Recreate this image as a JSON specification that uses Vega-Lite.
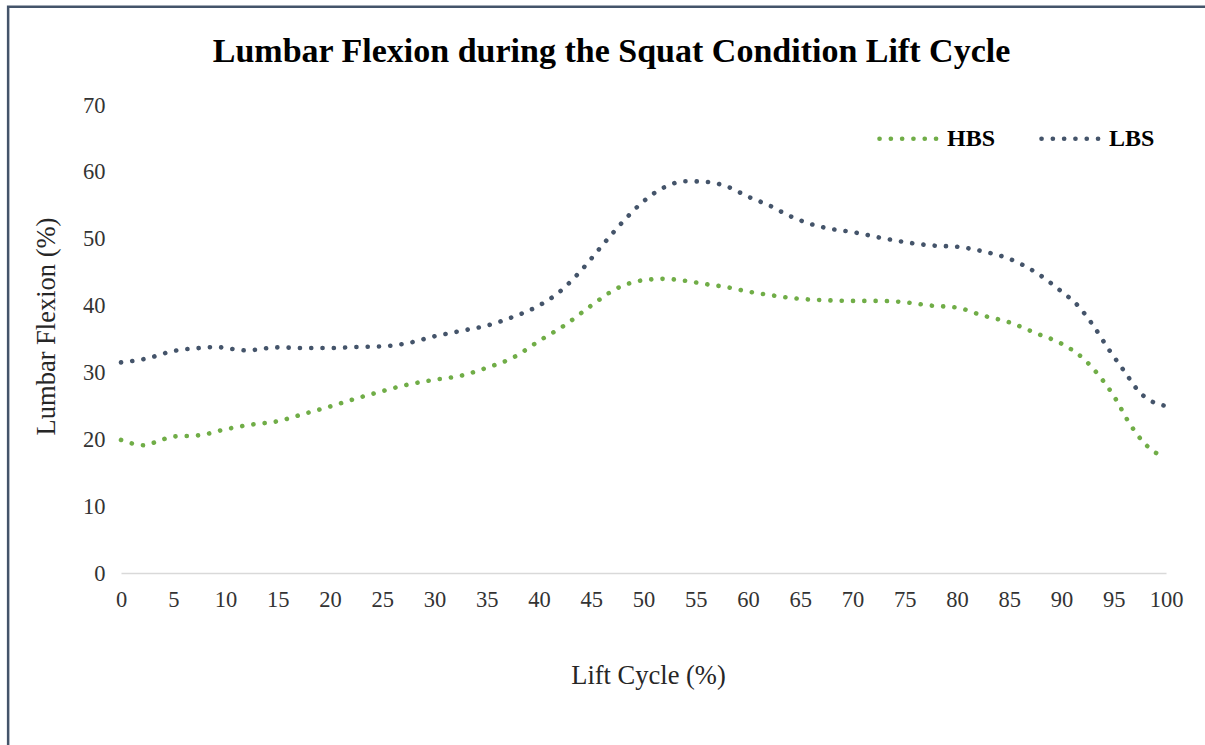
{
  "$schema": "https://vega.github.io/schema/vega-lite/v6.json",
  "width": 1045,
  "height": 468,
  "autosize": "none",
  "padding": {"left": 121, "top": 105, "right": 39, "bottom": 172},
  "background": "white",
  "config": {
    "view": {"stroke": null},
    "font": "Liberation Serif"
  },
  "title": {
    "text": "Lumbar Flexion during the Squat Condition Lift Cycle",
    "font": "Liberation Serif",
    "fontSize": 34,
    "fontWeight": "bold",
    "color": "#000000",
    "anchor": "middle",
    "frame": "group",
    "dx": -32,
    "offset": -64
  },
  "datasets": {
    "curves": [
      {"cycle": 0, "flexion": 19.9, "condition": "HBS"},
      {"cycle": 1, "flexion": 19.4, "condition": "HBS"},
      {"cycle": 2.3, "flexion": 19.1, "condition": "HBS"},
      {"cycle": 3.5, "flexion": 19.7, "condition": "HBS"},
      {"cycle": 5, "flexion": 20.4, "condition": "HBS"},
      {"cycle": 7.5, "flexion": 20.6, "condition": "HBS"},
      {"cycle": 10, "flexion": 21.5, "condition": "HBS"},
      {"cycle": 12.5, "flexion": 22.2, "condition": "HBS"},
      {"cycle": 15, "flexion": 22.7, "condition": "HBS"},
      {"cycle": 17.5, "flexion": 23.8, "condition": "HBS"},
      {"cycle": 20, "flexion": 24.9, "condition": "HBS"},
      {"cycle": 22.5, "flexion": 26.1, "condition": "HBS"},
      {"cycle": 25, "flexion": 27.2, "condition": "HBS"},
      {"cycle": 27.5, "flexion": 28.2, "condition": "HBS"},
      {"cycle": 30, "flexion": 28.9, "condition": "HBS"},
      {"cycle": 32.5, "flexion": 29.5, "condition": "HBS"},
      {"cycle": 35, "flexion": 30.7, "condition": "HBS"},
      {"cycle": 37.5, "flexion": 32.2, "condition": "HBS"},
      {"cycle": 40, "flexion": 34.7, "condition": "HBS"},
      {"cycle": 42.5, "flexion": 37.1, "condition": "HBS"},
      {"cycle": 45, "flexion": 40.0, "condition": "HBS"},
      {"cycle": 47.5, "flexion": 42.6, "condition": "HBS"},
      {"cycle": 50, "flexion": 43.8, "condition": "HBS"},
      {"cycle": 52, "flexion": 44.0, "condition": "HBS"},
      {"cycle": 54, "flexion": 43.7, "condition": "HBS"},
      {"cycle": 56, "flexion": 43.2, "condition": "HBS"},
      {"cycle": 58, "flexion": 42.75, "condition": "HBS"},
      {"cycle": 60, "flexion": 42.1, "condition": "HBS"},
      {"cycle": 62, "flexion": 41.6, "condition": "HBS"},
      {"cycle": 65, "flexion": 41.0, "condition": "HBS"},
      {"cycle": 67.5, "flexion": 40.8, "condition": "HBS"},
      {"cycle": 70, "flexion": 40.7, "condition": "HBS"},
      {"cycle": 72.5, "flexion": 40.7, "condition": "HBS"},
      {"cycle": 75, "flexion": 40.5, "condition": "HBS"},
      {"cycle": 77.5, "flexion": 40.0, "condition": "HBS"},
      {"cycle": 80, "flexion": 39.7, "condition": "HBS"},
      {"cycle": 82.5, "flexion": 38.5, "condition": "HBS"},
      {"cycle": 85, "flexion": 37.5, "condition": "HBS"},
      {"cycle": 87.5, "flexion": 35.9, "condition": "HBS"},
      {"cycle": 90, "flexion": 34.3, "condition": "HBS"},
      {"cycle": 92, "flexion": 32.2, "condition": "HBS"},
      {"cycle": 93.5, "flexion": 29.7, "condition": "HBS"},
      {"cycle": 95, "flexion": 26.5, "condition": "HBS"},
      {"cycle": 96.5, "flexion": 22.4, "condition": "HBS"},
      {"cycle": 98, "flexion": 19.3, "condition": "HBS"},
      {"cycle": 99, "flexion": 18.0, "condition": "HBS"},
      {"cycle": 100, "flexion": 17.5, "condition": "HBS"},
      {"cycle": 0, "flexion": 31.5, "condition": "LBS"},
      {"cycle": 2.5, "flexion": 32.1, "condition": "LBS"},
      {"cycle": 5, "flexion": 33.2, "condition": "LBS"},
      {"cycle": 7.5, "flexion": 33.65, "condition": "LBS"},
      {"cycle": 9, "flexion": 33.8, "condition": "LBS"},
      {"cycle": 12, "flexion": 33.3, "condition": "LBS"},
      {"cycle": 15, "flexion": 33.75, "condition": "LBS"},
      {"cycle": 17.5, "flexion": 33.65, "condition": "LBS"},
      {"cycle": 20, "flexion": 33.65, "condition": "LBS"},
      {"cycle": 22.5, "flexion": 33.8, "condition": "LBS"},
      {"cycle": 25, "flexion": 33.9, "condition": "LBS"},
      {"cycle": 27.5, "flexion": 34.4, "condition": "LBS"},
      {"cycle": 30, "flexion": 35.4, "condition": "LBS"},
      {"cycle": 32.5, "flexion": 36.2, "condition": "LBS"},
      {"cycle": 35, "flexion": 37.0, "condition": "LBS"},
      {"cycle": 37.5, "flexion": 38.3, "condition": "LBS"},
      {"cycle": 40, "flexion": 40.0, "condition": "LBS"},
      {"cycle": 42, "flexion": 42.1, "condition": "LBS"},
      {"cycle": 44, "flexion": 45.2, "condition": "LBS"},
      {"cycle": 46, "flexion": 48.9, "condition": "LBS"},
      {"cycle": 48, "flexion": 52.5, "condition": "LBS"},
      {"cycle": 50, "flexion": 55.6, "condition": "LBS"},
      {"cycle": 52, "flexion": 57.7, "condition": "LBS"},
      {"cycle": 54, "flexion": 58.6, "condition": "LBS"},
      {"cycle": 56, "flexion": 58.5, "condition": "LBS"},
      {"cycle": 58, "flexion": 57.8, "condition": "LBS"},
      {"cycle": 60, "flexion": 56.3, "condition": "LBS"},
      {"cycle": 62, "flexion": 55.0, "condition": "LBS"},
      {"cycle": 64, "flexion": 53.4, "condition": "LBS"},
      {"cycle": 66, "flexion": 52.2, "condition": "LBS"},
      {"cycle": 68, "flexion": 51.45, "condition": "LBS"},
      {"cycle": 70, "flexion": 51.0, "condition": "LBS"},
      {"cycle": 72.5, "flexion": 50.2, "condition": "LBS"},
      {"cycle": 75, "flexion": 49.5, "condition": "LBS"},
      {"cycle": 77.5, "flexion": 49.0, "condition": "LBS"},
      {"cycle": 80, "flexion": 48.8, "condition": "LBS"},
      {"cycle": 82.5, "flexion": 48.1, "condition": "LBS"},
      {"cycle": 85, "flexion": 47.0, "condition": "LBS"},
      {"cycle": 87.5, "flexion": 45.0, "condition": "LBS"},
      {"cycle": 90, "flexion": 42.1, "condition": "LBS"},
      {"cycle": 91.5, "flexion": 40.1, "condition": "LBS"},
      {"cycle": 93, "flexion": 37.1, "condition": "LBS"},
      {"cycle": 94.5, "flexion": 33.5, "condition": "LBS"},
      {"cycle": 96, "flexion": 30.2, "condition": "LBS"},
      {"cycle": 97.5, "flexion": 27.0, "condition": "LBS"},
      {"cycle": 99, "flexion": 25.4, "condition": "LBS"},
      {"cycle": 100, "flexion": 25.0, "condition": "LBS"}
    ]
  },
  "layer": [
    {
      "data": {"name": "curves"},
      "mark": {
        "type": "line",
        "interpolate": "monotone",
        "strokeWidth": 4.6,
        "strokeCap": "round",
        "strokeDash": [0.1, 11.2]
      },
      "encoding": {
        "x": {
          "field": "cycle",
          "type": "quantitative",
          "scale": {"domain": [0, 100], "nice": false, "zero": false},
          "axis": {
            "values": [0, 5, 10, 15, 20, 25, 30, 35, 40, 45, 50, 55, 60, 65, 70, 75, 80, 85, 90, 95, 100],
            "title": "Lift Cycle (%)",
            "titleFont": "Liberation Serif",
            "titleFontSize": 26.5,
            "titleFontWeight": "normal",
            "titleColor": "#262626",
            "titlePadding": 52,
            "titleX": 527,
            "labelFont": "Liberation Serif",
            "labelFontSize": 22.5,
            "labelColor": "#333333",
            "labelPadding": 15,
            "labelFlush": false,
            "labelOverlap": false,
            "ticks": false,
            "grid": false,
            "domain": true,
            "domainColor": "#d9d9d9",
            "domainWidth": 1.5
          }
        },
        "y": {
          "field": "flexion",
          "type": "quantitative",
          "scale": {"domain": [0, 70], "nice": false},
          "axis": {
            "values": [0, 10, 20, 30, 40, 50, 60, 70],
            "title": "Lumbar Flexion (%)",
            "titleFont": "Liberation Serif",
            "titleFontSize": 26.5,
            "titleFontWeight": "normal",
            "titleColor": "#262626",
            "titlePadding": 22,
            "titleY": 221,
            "labelFont": "Liberation Serif",
            "labelFontSize": 22.5,
            "labelColor": "#333333",
            "labelPadding": 16,
            "labelFlush": false,
            "ticks": false,
            "grid": false,
            "domain": false
          }
        },
        "color": {
          "field": "condition",
          "type": "nominal",
          "scale": {"domain": ["HBS", "LBS"], "range": ["#70ad47", "#44546a"]},
          "legend": {
            "title": null,
            "orient": "none",
            "direction": "horizontal",
            "legendX": 756,
            "legendY": 0,
            "padding": 0,
            "symbolType": "stroke",
            "symbolSize": 3844,
            "symbolStrokeWidth": 4.6,
            "symbolDash": [0.1, 11.2],
            "labelFont": "Liberation Serif",
            "labelFontSize": 24,
            "labelFontWeight": "bold",
            "labelColor": "#000000",
            "labelOffset": 3,
            "columnPadding": 36,
            "encode": {"symbols": {"update": {"strokeCap": {"value": "round"}}}}
          }
        }
      }
    },
    {
      "data": {"values": [{"edge": "frame"}]},
      "mark": {"type": "rect", "filled": false, "stroke": "#44546a", "strokeWidth": 2.5, "clip": false},
      "encoding": {
        "x": {"datum": -10.8, "type": "quantitative"},
        "x2": {"datum": 140},
        "y": {"datum": 84.7, "type": "quantitative"},
        "y2": {"datum": -40}
      }
    }
  ]
}
